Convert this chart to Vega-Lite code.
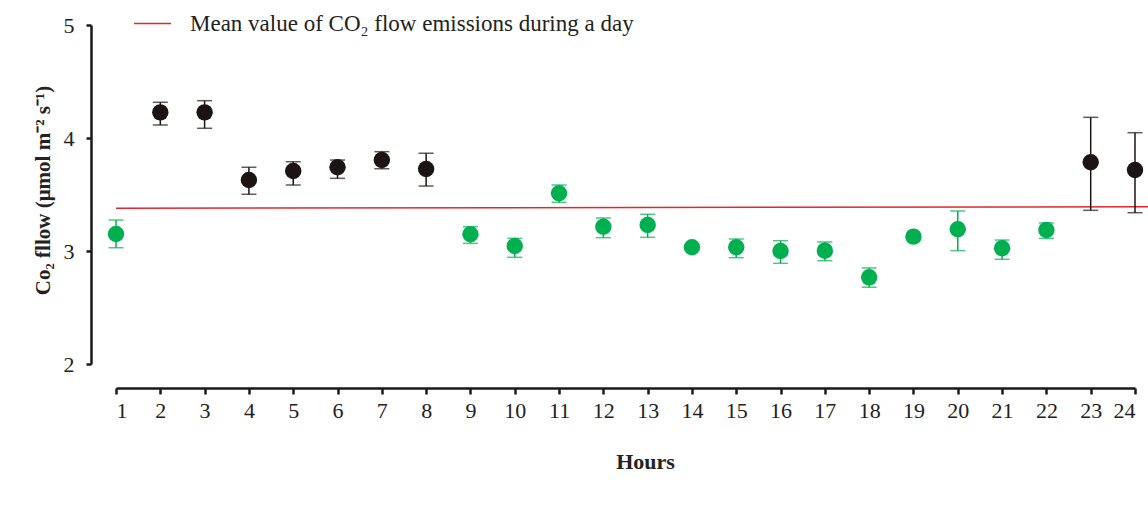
{
  "$schema": "https://vega.github.io/schema/vega-lite/v6.json",
  "autosize": "none",
  "width": 1019,
  "height": 339,
  "padding": {"left": 116, "top": 25, "right": 13, "bottom": 151},
  "background": "white",
  "config": {"view": {"stroke": null}, "font": "Liberation Serif"},
  "datasets": {
    "obs": [
      {"hour": 1, "flow": 3.150, "lo": 3.029, "hi": 3.274, "level": "low"},
      {"hour": 2, "flow": 4.227, "lo": 4.115, "hi": 4.316, "level": "high"},
      {"hour": 3, "flow": 4.227, "lo": 4.086, "hi": 4.330, "level": "high"},
      {"hour": 4, "flow": 3.628, "lo": 3.502, "hi": 3.741, "level": "high"},
      {"hour": 5, "flow": 3.708, "lo": 3.584, "hi": 3.790, "level": "high"},
      {"hour": 6, "flow": 3.741, "lo": 3.643, "hi": 3.805, "level": "high"},
      {"hour": 7, "flow": 3.805, "lo": 3.728, "hi": 3.879, "level": "high"},
      {"hour": 8, "flow": 3.726, "lo": 3.575, "hi": 3.865, "level": "high"},
      {"hour": 9, "flow": 3.148, "lo": 3.068, "hi": 3.215, "level": "low"},
      {"hour": 10, "flow": 3.044, "lo": 2.944, "hi": 3.112, "level": "low"},
      {"hour": 11, "flow": 3.511, "lo": 3.431, "hi": 3.584, "level": "low"},
      {"hour": 12, "flow": 3.215, "lo": 3.118, "hi": 3.292, "level": "low"},
      {"hour": 13, "flow": 3.230, "lo": 3.121, "hi": 3.325, "level": "low"},
      {"hour": 14, "flow": 3.033, "lo": 3.013, "hi": 3.053, "level": "low"},
      {"hour": 15, "flow": 3.033, "lo": 2.941, "hi": 3.106, "level": "low"},
      {"hour": 16, "flow": 3.000, "lo": 2.891, "hi": 3.091, "level": "low"},
      {"hour": 17, "flow": 3.003, "lo": 2.914, "hi": 3.080, "level": "low"},
      {"hour": 18, "flow": 2.767, "lo": 2.679, "hi": 2.850, "level": "low"},
      {"hour": 19, "flow": 3.127, "lo": 3.107, "hi": 3.147, "level": "low"},
      {"hour": 20, "flow": 3.192, "lo": 3.003, "hi": 3.354, "level": "low"},
      {"hour": 21, "flow": 3.024, "lo": 2.927, "hi": 3.097, "level": "low"},
      {"hour": 22, "flow": 3.186, "lo": 3.112, "hi": 3.248, "level": "low"},
      {"hour": 23, "flow": 3.785, "lo": 3.360, "hi": 4.183, "level": "high"},
      {"hour": 24, "flow": 3.717, "lo": 3.339, "hi": 4.047, "level": "high"}
    ],
    "mean": [
      {"hour": 1, "flow": 3.378, "label": "Mean value of CO₂ flow emissions during a day"},
      {"hour": 24.3, "flow": 3.392, "label": "Mean value of CO₂ flow emissions during a day"}
    ]
  },
  "layer": [
    {
      "data": {"name": "mean"},
      "mark": {"type": "line", "strokeWidth": 1.5, "clip": false},
      "encoding": {
        "x": {
          "field": "hour", "type": "quantitative",
          "scale": {"domain": [1, 24], "nice": false, "zero": false},
          "axis": {
            "orient": "bottom", "offset": 24, "values": [1,2,3,4,5,6,7,8,9,10,11,12,13,14,15,16,17,18,19,20,21,22,23,24],
            "format": "d", "grid": false,
            "domainColor": "#1a1a1a", "domainWidth": 2.5,
            "tickColor": "#1a1a1a", "tickWidth": 2.5, "tickSize": 6,
            "labelFontSize": 22, "labelColor": "#222", "labelPadding": 6, "labelFont": "Liberation Serif",
            "title": "Hours", "titleFont": "Liberation Serif", "titleFontSize": 22, "titleFontWeight": "bold",
            "titleColor": "#222", "titlePadding": 30, "titleX": 529
          }
        },
        "y": {
          "field": "flow", "type": "quantitative",
          "scale": {"domain": [2, 5], "nice": false, "zero": false},
          "axis": {
            "orient": "left", "offset": 25, "values": [2, 3, 4, 5], "format": "d", "grid": false,
            "domainColor": "#1a1a1a", "domainWidth": 2.5,
            "tickColor": "#1a1a1a", "tickWidth": 2.5, "tickSize": 5,
            "labelFontSize": 22, "labelColor": "#222", "labelPadding": 12, "labelFont": "Liberation Serif",
            "title": "Co₂ fllow (μmol m⁻² s⁻¹)", "titleFont": "Liberation Serif", "titleFontSize": 21,
            "titleFontWeight": "bold", "titleColor": "#222", "titlePadding": 10, "titleY": 165
          }
        },
        "stroke": {
          "field": "label", "type": "nominal",
          "scale": {"range": ["#e0282e"]},
          "legend": {
            "title": null, "orient": "none", "legendX": 17, "legendY": -21,
            "symbolType": "stroke", "symbolSize": 1369, "symbolStrokeWidth": 1.5,
            "labelFont": "Liberation Serif", "labelFontSize": 23, "labelColor": "#222",
            "labelOffset": 18, "padding": 0, "labelLimit": 700
          }
        }
      }
    },
    {
      "data": {"name": "obs"},
      "mark": {"type": "rule", "strokeWidth": 1.5},
      "encoding": {
        "x": {"field": "hour", "type": "quantitative"},
        "y": {"field": "lo", "type": "quantitative"},
        "y2": {"field": "hi"},
        "color": {"field": "level", "type": "nominal", "scale": {"domain": ["high", "low"], "range": ["#1c1412", "#00b050"]}, "legend": null}
      }
    },
    {
      "data": {"name": "obs"},
      "mark": {"type": "tick", "orient": "horizontal", "size": 15, "thickness": 1.5},
      "encoding": {
        "x": {"field": "hour", "type": "quantitative"},
        "y": {"field": "lo", "type": "quantitative"},
        "color": {"field": "level", "type": "nominal", "legend": null}
      }
    },
    {
      "data": {"name": "obs"},
      "mark": {"type": "tick", "orient": "horizontal", "size": 15, "thickness": 1.5},
      "encoding": {
        "x": {"field": "hour", "type": "quantitative"},
        "y": {"field": "hi", "type": "quantitative"},
        "color": {"field": "level", "type": "nominal", "legend": null}
      }
    },
    {
      "data": {"name": "obs"},
      "mark": {"type": "circle", "size": 270, "opacity": 1},
      "encoding": {
        "x": {"field": "hour", "type": "quantitative"},
        "y": {"field": "flow", "type": "quantitative"},
        "color": {"field": "level", "type": "nominal", "legend": null}
      }
    }
  ]
}
